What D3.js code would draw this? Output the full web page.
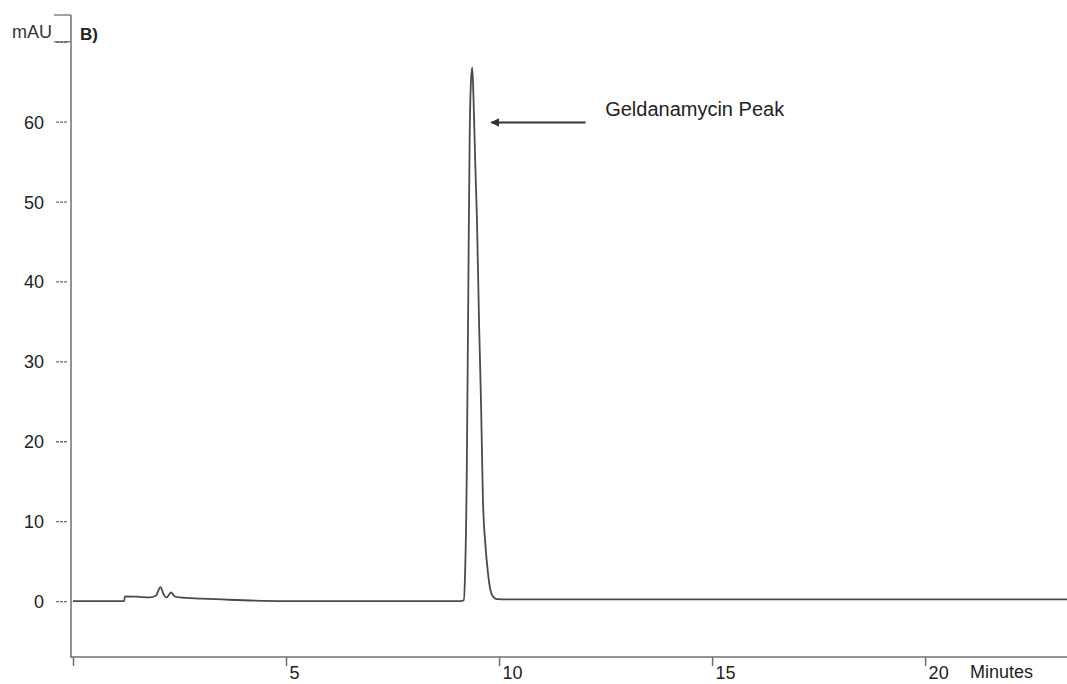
<!DOCTYPE html>
<html>
<head>
<meta charset="utf-8">
<script src="https://cdn.jsdelivr.net/npm/d3@7"></script>
<style>
    body { margin: 0; background: #fff; }
    .axis path, .axis line { stroke: #707070; }
    .axis text { font-family: "Liberation Sans", Arial, sans-serif; fill: #222; }
    .trace { fill: none; stroke: #4a4a4a; stroke-width: 1.8; stroke-linejoin: round; }
</style>
</head>
<body>
<div class="chart"></div>
<script>
(function(){

    // retention time (minutes) and absorbance (mAU)
    var times = [0, 1.2, 1.22, 1.5, 1.8, 1.95, 2.05, 2.14, 2.2, 2.3, 2.38, 2.5, 3.0, 3.5, 4.0, 5.0, 8.0, 9.1,
                 9.17, 9.2, 9.24, 9.28, 9.31, 9.34, 9.37, 9.4, 9.44, 9.48, 9.53, 9.58, 9.62, 9.68, 9.74, 9.8, 9.87, 9.95,
                 10.2, 15, 20, 23.4]
    var mAU   = [0, 0, 0.6, 0.55, 0.45, 0.7, 1.75, 0.7, 0.45, 1.1, 0.6, 0.45, 0.3, 0.2, 0.1, 0, 0, 0,
                 0.1, 3, 15, 40, 58, 65, 66.8, 63, 55, 48, 35, 24, 13, 7, 3.5, 1.3, 0.5, 0.25,
                 0.2, 0.2, 0.2, 0.2]

    var xTicks = [0, 5, 10, 15, 20]
    var xTickLabels = ["", "5", "10", "15", "20"]
    var yTicks = [0, 10, 20, 30, 40, 50, 60, 70]
    var yTickLabels = ["0", "10", "20", "30", "40", "50", "60", ""]

    var peakName = "Geldanamycin Peak"

    var width = 1067, height = 684
    var font = "Liberation Sans, Arial, sans-serif"

    var data = times.map(function(t, i) { return {t: t, v: mAU[i]} })

    var svg = d3.select(".chart").append("svg")
        .attr("width", width).attr("height", height)

    var x = d3.scaleLinear().domain([0, 23.33]).range([73, 1067])
    var y = d3.scaleLinear().domain([-7, 73.35]).range([657, 15])

    // x axis
    var xAxis = d3.axisBottom(x)
        .tickValues(xTicks)
        .tickSize(9)
        .tickFormat(function(d, i) { return xTickLabels[i] })

    var gx = svg.append("g")
        .attr("class", "axis x")
        .attr("transform", "translate(0," + y(-7) + ")")
        .call(xAxis)

    gx.select(".domain").attr("d", "M70,0H1067").attr("stroke", "#9a9a9a").attr("stroke-width", 1.5)
    gx.selectAll(".tick line").attr("stroke", "#555").attr("stroke-width", 1.5)
    gx.selectAll(".tick text")
        .attr("font-size", 18)
        .attr("text-anchor", "start")
        .attr("x", 3)
        .attr("y", 9)

    gx.append("text")
        .attr("x", 970).attr("y", 21)
        .attr("font-size", 18)
        .attr("text-anchor", "start")
        .attr("fill", "#222")
        .text("Minutes")

    // y axis
    var yAxis = d3.axisLeft(y)
        .tickValues(yTicks)
        .tickSize(0)
        .tickPadding(0)
        .tickFormat(function(d, i) { return yTickLabels[i] })

    var gy = svg.append("g")
        .attr("class", "axis y")
        .attr("transform", "translate(71,0)")
        .call(yAxis)

    gy.select(".domain").attr("d", "M0," + y(73.35) + "V" + y(-7)).attr("stroke", "#555").attr("stroke-width", 1.5)
    gy.selectAll(".tick").append("line")
        .attr("x1", -15).attr("x2", -3)
        .attr("stroke", "#8a8a8a").attr("stroke-width", 1.3)
        .attr("stroke-dasharray", "3,1")
    gy.selectAll(".tick text")
        .attr("font-size", 18)
        .attr("x", -27)
        .attr("dy", "0.36em")

    // top bracket of the y axis
    gy.append("line")
        .attr("x1", -17).attr("x2", 0)
        .attr("y1", y(73.35)).attr("y2", y(73.35))
        .attr("stroke", "#777").attr("stroke-width", 1.3)
    gy.append("line")
        .attr("x1", -17).attr("x2", 0)
        .attr("y1", y(70)).attr("y2", y(70))
        .attr("stroke", "#777").attr("stroke-width", 1.3)

    svg.append("text")
        .attr("x", 12).attr("y", 38)
        .attr("font-family", font).attr("font-size", 18)
        .attr("fill", "#333")
        .text("mAU")

    svg.append("text")
        .attr("x", 80).attr("y", 40)
        .attr("font-family", font).attr("font-size", 17)
        .attr("font-weight", "bold")
        .attr("fill", "#222")
        .text("B)")

    // chromatogram trace
    var line = d3.line()
        .x(function(d) { return x(d.t) })
        .y(function(d) { return y(d.v) })
        .curve(d3.curveMonotoneX)

    svg.append("path")
        .datum(data)
        .attr("class", "trace")
        .attr("d", line)

    // annotation arrow pointing at the peak
    svg.append("defs").append("marker")
        .attr("id", "head")
        .attr("viewBox", "0 0 10 10")
        .attr("refX", 9).attr("refY", 5)
        .attr("markerWidth", 4.5).attr("markerHeight", 4.5)
        .attr("orient", "auto")
        .append("path")
        .attr("d", "M0,0L10,5L0,10z")
        .attr("fill", "#333")

    svg.append("line")
        .attr("x1", x(12.03)).attr("x2", x(9.82))
        .attr("y1", y(59.9)).attr("y2", y(59.9))
        .attr("stroke", "#333").attr("stroke-width", 2)
        .attr("marker-end", "url(#head)")

    svg.append("text")
        .attr("x", x(12.49)).attr("y", y(60.7))
        .attr("font-family", font).attr("font-size", 20)
        .attr("fill", "#222")
        .text(peakName)

})();
</script>
</body>
</html>
